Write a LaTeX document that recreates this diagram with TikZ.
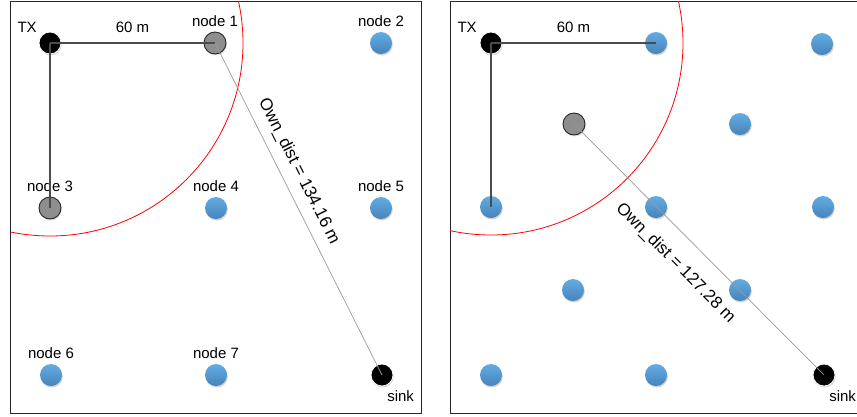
\documentclass[tikz,border=0pt]{standalone}
\usepackage{fontspec}
\setmainfont{Liberation Sans}
\usepackage{xcolor}
\usepackage{tikz}
\usetikzlibrary{positioning}
\usetikzlibrary{shadows}

\definecolor{blueTop}{HTML}{62ADE3}
\definecolor{blueBot}{HTML}{4783BA}
\definecolor{relayGray}{HTML}{8E8E8E}

\begin{document}
\begin{tikzpicture}[x=1pt, y=-1pt, font=\fontsize{15}{18}\selectfont,
  sensor/.style={circle, minimum size=22pt, inner sep=0pt, top color=blueTop, bottom color=blueBot,
    drop shadow={opacity=0.35, shadow xshift=0.8pt, shadow yshift=-1.5pt}},
  relay/.style={circle, minimum size=22pt, inner sep=0pt, draw=black!85, line width=0.9pt, fill=relayGray,
    drop shadow={opacity=0.25, shadow xshift=0.8pt, shadow yshift=-1.5pt}},
  endpt/.style={circle, minimum size=22pt, inner sep=0pt, fill=black, draw=white, line width=0.8pt,
    drop shadow={opacity=0.3, shadow xshift=0.8pt, shadow yshift=-1.5pt}},
  lbl/.style={inner sep=0pt},
  dlbl/.style={inner sep=0pt, font=\fontsize{17}{20}\selectfont},
  link/.style={draw=black!70, line width=1.2pt},
  owndist/.style={draw=black!40, line width=0.7pt}]
\useasboundingbox (0,0) rectangle (857,416);
% frames
\draw[black!85, line width=1pt] (10,1) rectangle (421,413);
\draw[black!85, line width=1pt] (450,1) rectangle (875,413);

% left grid
\node[endpt] (tx) at (50,43) {};
\node[relay] (n1) at (215,43) {};
\node[sensor] (n2) at (381,43) {};
\node[relay] (n3) at (50,208) {};
\node[sensor] (n4) at (216,208) {};
\node[sensor] (n5) at (381,208) {};
\node[sensor] (n6) at (51,375) {};
\node[sensor] (n7) at (216,375) {};
\node[endpt] (sink) at (382,375) {};
% left labels
\node[lbl, above left=2pt and 5pt of tx] (txlbl) {TX};
\node[lbl, above=5pt of n1] (l1) {node 1};
\node[lbl, above=5pt of n2] (l2) {node 2};
\node[lbl, above=5pt of n3] (l3) {node 3};
\node[lbl, above=5pt of n4] (l4) {node 4};
\node[lbl, above=5pt of n5] (l5) {node 5};
\node[lbl, above=5pt of n6] (l6) {node 6};
\node[lbl, above=5pt of n7] (l7) {node 7};
\node[lbl, below right=7pt and -3pt of sink] (sinklbl) {sink};
% left range
\begin{scope}
  \clip (10,1) rectangle (421,413);
  \draw[red, line width=0.8pt] (tx.center) circle (193pt);
\end{scope}
% left links
\draw[link] (tx.center) -- node[lbl, above=10pt] {60 m} (n1.center);
\draw[link] (tx.center) -- (n3.center);
\draw[owndist] (n1.center) -- node[dlbl, sloped, above=9pt, pos=0.41] {Own\_dist = 134.16 m} (sink.center);

% right grid
\node[endpt] (rtx) at (491,43) {};
\node[sensor] (r1) at (656,43) {};
\node[sensor] (r2) at (822,44) {};
\node[relay] (rg) at (574,124) {};
\node[sensor] (r3) at (740,124) {};
\node[sensor] (r4) at (491,207) {};
\node[sensor] (r5) at (656,207) {};
\node[sensor] (r6) at (823,207) {};
\node[sensor] (r7) at (573,290) {};
\node[sensor] (r8) at (740,290) {};
\node[sensor] (r9) at (491,375) {};
\node[sensor] (r10) at (656,375) {};
\node[endpt] (rsink) at (824,375) {};
% right labels
\node[lbl, above left=2pt and 6pt of rtx] (rtxlbl) {TX};
\node[lbl, below right=7pt and -3pt of rsink] (rsinklbl) {sink};
% right range
\begin{scope}
  \clip (450,1) rectangle (857,413);
  \draw[red, line width=0.8pt] (rtx.center) circle (192pt);
\end{scope}
% right links
\draw[link] (rtx.center) -- node[lbl, above=10pt] {60 m} (r1.center);
\draw[link] (rtx.center) -- (r4.center);
\draw[owndist] (rg.center) -- node[dlbl, sloped, below=18pt, pos=0.48] {Own\_dist = 127.28 m} (rsink.center);
\end{tikzpicture}
\end{document}
